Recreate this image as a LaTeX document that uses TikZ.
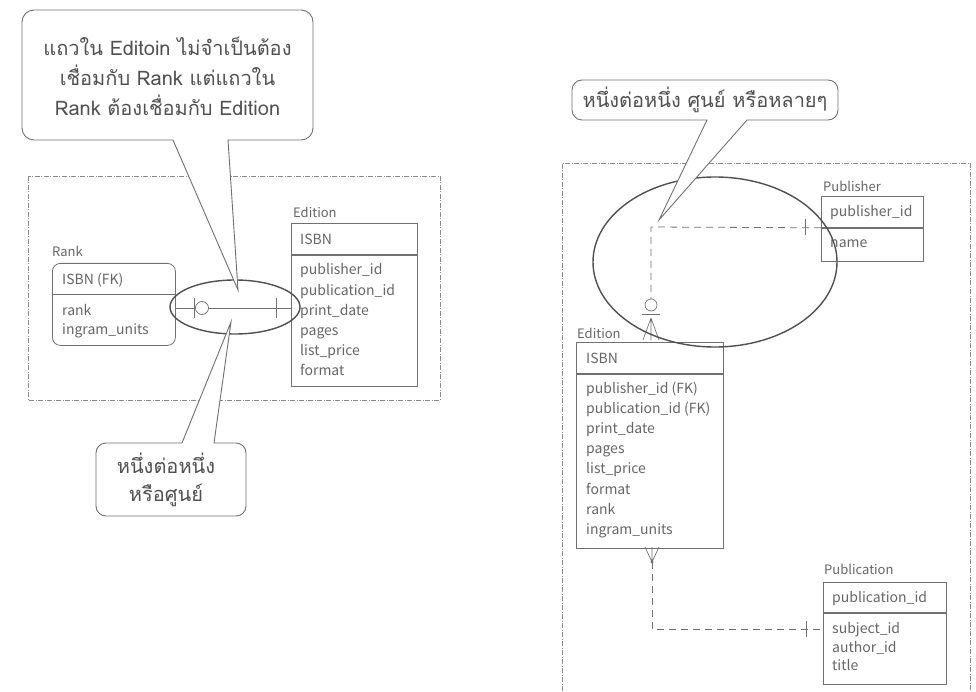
\documentclass[tikz,border=0pt]{standalone}
\usepackage{fontspec}
\newfontfamily\thaifont[Script=Thai]{Loma}
\newfontfamily\tblfont{Noto Sans CJK JP}
\definecolor{linegray}{HTML}{707070}
\definecolor{txtgray}{HTML}{666666}
\definecolor{ovalgray}{HTML}{505050}
\definecolor{bordergray}{HTML}{8A8A8A}
\definecolor{calltxt}{HTML}{505050}
\tikzset{
  ent/.style={draw=linegray, line width=0.8pt, inner sep=0pt, anchor=north west},
  txt/.style={anchor=base west, inner sep=0pt, text=txtgray, font=\tblfont\fontsize{14}{16}\selectfont},
  lbl/.style={txt, font=\tblfont\fontsize{13}{16}\selectfont},
  ln/.style={draw=linegray, line width=0.8pt},
  rel/.style={draw=linegray, line width=0.7pt},
  dashline/.style={draw=linegray, line width=0.8pt, dash pattern=on 7pt off 5pt},
  frame/.style={draw=bordergray, line width=0.7pt, dash pattern=on 5pt off 1.5pt on 1pt off 1.5pt},
  oval/.style={draw=ovalgray, line width=1.4pt},
  callout/.style={draw=linegray, line width=0.9pt, fill=white, line join=miter},
  ctext/.style={align=center, inner sep=0pt, text=calltxt, font=\thaifont\fontsize{20}{30}\selectfont},
}
\begin{document}
\begin{tikzpicture}[x=1pt, y=-1pt]
\useasboundingbox[fill=white] (0,0) rectangle (976,692);

% ---------- frames ----------
\draw[frame] (28,176) rectangle (440,400);
\draw[frame] (562,700) -- (562,163) -- (970,163) -- (970,700);

% ---------- Rank ----------
\node[lbl] (rank-lbl) at (52,257) {Rank};
\node[ent, rounded corners=8pt, minimum width=123pt, minimum height=82pt] (rank) at (52,263) {};
\draw[ln] (rank.west |- 0,294) -- (rank.east |- 0,294);
\node[txt] (rank-k) at (62,284) {ISBN (FK)};
\node[txt] (rank-a1) at (62,315) {rank};
\node[txt] (rank-a2) at (62,334) {ingram\_units};

% ---------- Edition (left) ----------
\node[lbl] (edL-lbl) at (293,218) {Edition};
\node[ent, minimum width=126pt, minimum height=31pt] (edL-head) at (291,223) {};
\node[ent, minimum width=126pt, minimum height=131pt] (edL-body) at (edL-head.south west) {};
\node[txt] (edL-k) at (300,245) {ISBN};
\foreach \t [count=\i] in {publisher\_id, publication\_id, print\_date, pages, list\_price, format}
  \node[txt] (edL-a\i) at (300,255+20*\i) {\t};

% ---------- Rank -- Edition (zero-or-one to one) ----------
\draw[rel] (rank.east |- 0,308) -- (edL-body.west |- 0,308);
\draw[rel] (194,298) -- (194,318);
\draw[rel, fill=white] (202,308) circle [radius=6.5];
\draw[rel] (276,298) -- (276,318);

% ---------- Publisher ----------
\node[lbl] (pub-lbl) at (823,192) {Publisher};
\node[ent, minimum width=102pt, minimum height=31pt] (pub-head) at (821,196) {};
\node[ent, minimum width=102pt, minimum height=33pt] (pub-body) at (pub-head.south west) {};
\node[txt] (pub-k) at (830,217) {publisher\_id};
\node[txt] (pub-a1) at (830,248) {name};

% ---------- Edition (right) ----------
\node[lbl] (edR-lbl) at (577,338) {Edition};
\node[ent, minimum width=147pt, minimum height=31pt] (edR-head) at (576,342) {};
\node[ent, minimum width=147pt, minimum height=174pt] (edR-body) at (edR-head.south west) {};
\node[txt] (edR-k) at (586,363) {ISBN};
\foreach \t [count=\i] in {publisher\_id (FK), publication\_id (FK), print\_date, pages, list\_price, format, rank, ingram\_units}
  \node[txt] (edR-a\i) at (586,372.8+20.2*\i) {\t};

% ---------- Publication ----------
\node[lbl] (pbn-lbl) at (824,574) {Publication};
\node[ent, minimum width=123pt, minimum height=30pt] (pbn-head) at (823,582) {};
\node[ent, minimum width=123pt, minimum height=71pt] (pbn-body) at (pbn-head.south west) {};
\node[txt] (pbn-k) at (832,602) {publication\_id};
\node[txt] (pbn-a1) at (832,633) {subject\_id};
\node[txt] (pbn-a2) at (832,652) {author\_id};
\node[txt] (pbn-a3) at (832,670) {title};

% ---------- Publisher -- Edition (one to zero-or-many) ----------
\coordinate (bendA) at (651,227);
\draw[dashline] (pub-body.north west) -- (bendA) -- (651,299);
\draw[rel] (805,219) -- (805,235);
\draw[rel, fill=white] (651,305) circle [radius=6];
\draw[rel] (642,314) -- (660,314);
\draw[rel] (651,318) -- (643,340) (651,318) -- (651,340) (651,318) -- (659,340);

% ---------- Edition -- Publication (many to one) ----------
\coordinate (footB) at (652,562);
\coordinate (bendB) at (652,629);
\draw[rel] (645,547) -- (footB) -- (659,547) (652,547) -- (footB);
\fill[linegray] (footB) circle [radius=1.6];
\draw[dashline] (footB) -- (bendB) -- (pbn-body.west |- bendB);
\draw[rel] (806,621) -- (806,637);

% ---------- emphasis ovals ----------
\draw[oval] (235,307) ellipse [x radius=65, y radius=27];
\draw[oval] (715,262) ellipse [x radius=122, y radius=85];

% ---------- callouts ----------
\coordinate (tipA) at (238,290);
\coordinate (tipB) at (231,322);
\coordinate (tipC) at (659,220);

\draw[callout] (313,75) [rounded corners=12pt] -- (313,10) -- (22,10) -- (22,140)
  [sharp corners] -- (173,140) -- (tipA) -- (228,140) [rounded corners=12pt] -- (313,140) -- cycle;
\node[ctext] (noteA) at (167.5,76) {แถวใน Editoin ไม่จำเป็นต้อง\\เชื่อมกับ Rank แต่แถวใน\\Rank ต้องเชื่อมกับ Edition};

\draw[callout] (246,480) [rounded corners=10pt] -- (246,516) -- (96,516) -- (96,443)
  [sharp corners] -- (182,443) -- (tipB) -- (214,443) [rounded corners=10pt] -- (246,443) -- cycle;
\node[ctext, font=\thaifont\fontsize{20}{28}\selectfont] (noteB) at (166,480) {หนึ่งต่อหนึ่ง\\หรือศูนย์};

\draw[callout] (838,100) [rounded corners=10pt] -- (838,80) -- (572,80) -- (572,120)
  [sharp corners] -- (707,120) -- (tipC) -- (747,120) [rounded corners=10pt] -- (838,120) -- cycle;
\node[ctext] (noteC) at (705,100) {หนึ่งต่อหนึ่ง ศูนย์ หรือหลายๆ};
\end{tikzpicture}
\end{document}
